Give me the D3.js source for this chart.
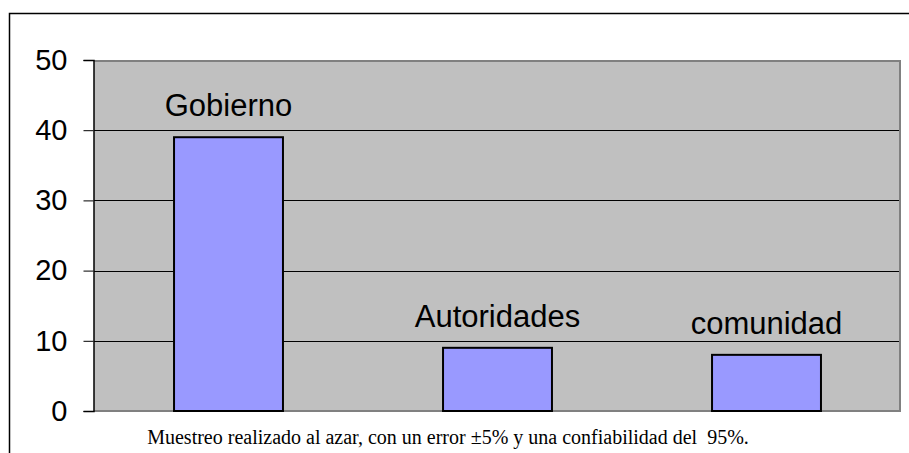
<!DOCTYPE html>
<html>
<head>
<meta charset="utf-8">
<script src="https://cdn.jsdelivr.net/npm/d3@7"></script>
<style>
  body { margin: 0; background: #fff; }
  svg { display: block; }
</style>
</head>
<body>
<div id="chart"></div>
<script>
var categories = ["Gobierno", "Autoridades", "comunidad"];
var values = [39, 9, 8];
var yTicks = [0, 10, 20, 30, 40, 50];
var note = "Muestreo realizado al azar, con un error \u00b15% y una confiabilidad del  95%.";

var width = 909, height = 453;
var plot = {left: 94, top: 60, right: 901, bottom: 411};

var svg = d3.select("#chart").append("svg")
    .attr("width", width)
    .attr("height", height);

// outer frame
svg.append("rect")
    .attr("x", 9.5).attr("y", 13.5)
    .attr("width", 920).attr("height", 460)
    .attr("fill", "#fff")
    .attr("stroke", "#000")
    .attr("stroke-width", 1.5);

var x = d3.scaleBand()
    .domain(categories)
    .range([plot.left, plot.right])
    .paddingInner(0.595)
    .paddingOuter(0.2975);

var y = d3.scaleLinear()
    .domain([0, 50])
    .range([plot.bottom, plot.top]);

// plot background
svg.append("rect")
    .attr("x", plot.left).attr("y", plot.top)
    .attr("width", plot.right - plot.left)
    .attr("height", plot.bottom - plot.top)
    .attr("fill", "#c0c0c0");

// gridlines
svg.selectAll(".grid")
    .data(yTicks.filter(function(d) { return d > 0 && d < 50; }))
    .enter().append("line")
    .attr("x1", plot.left).attr("x2", plot.right)
    .attr("y1", function(d) { return Math.round(y(d)) + 0.5; })
    .attr("y2", function(d) { return Math.round(y(d)) + 0.5; })
    .attr("stroke", "#000")
    .attr("stroke-width", 1);

// plot border top/right
svg.append("path")
    .attr("d", "M" + plot.left + "," + (plot.top + 1) + "H" + (plot.right - 1) + "V" + plot.bottom + "H" + plot.left)
    .attr("fill", "none")
    .attr("stroke", "#808080")
    .attr("stroke-width", 2);

// y axis
var yAxis = d3.axisLeft(y)
    .tickValues(yTicks)
    .tickSize(10)
    .tickPadding(16);

var ga = svg.append("g")
    .attr("transform", "translate(" + (plot.left - 0.5) + ",0)")
    .call(yAxis);
ga.select(".domain").attr("stroke", "#000").attr("stroke-width", 1.5);
ga.selectAll(".tick line").attr("stroke", "#000");
ga.selectAll(".tick text")
    .attr("fill", "#000")
    .style("font-family", "Liberation Sans, Arial, sans-serif")
    .style("font-size", "29px");

// bars
svg.selectAll(".bar")
    .data(values)
    .enter().append("rect")
    .attr("class", "bar")
    .attr("x", function(d, i) { return x(categories[i]); })
    .attr("y", function(d) { return y(d); })
    .attr("width", x.bandwidth())
    .attr("height", function(d) { return y(0) - y(d); })
    .attr("fill", "#9999ff")
    .attr("stroke", "#000")
    .attr("stroke-width", 2);

// bar labels
svg.selectAll(".lbl")
    .data(values)
    .enter().append("text")
    .attr("x", function(d, i) { return x(categories[i]) + x.bandwidth() / 2; })
    .attr("y", function(d) { return y(d) - 21; })
    .attr("text-anchor", "middle")
    .style("font-family", "Liberation Sans, Arial, sans-serif")
    .style("font-size", "31px")
    .text(function(d, i) { return categories[i]; });

// footnote
svg.append("text")
    .attr("x", 448)
    .attr("y", 444)
    .attr("text-anchor", "middle")
    .style("font-family", "Liberation Serif, Times New Roman, serif")
    .style("font-size", "20px")
    .style("white-space", "pre")
    .text(note);
</script>
</body>
</html>
